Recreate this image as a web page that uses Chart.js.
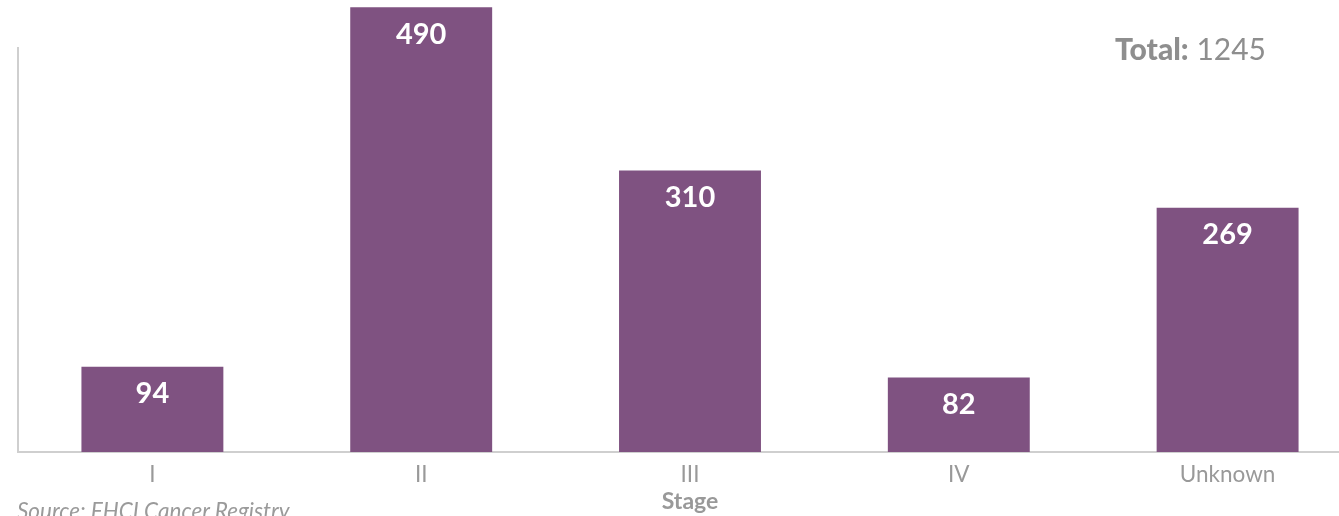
<!DOCTYPE html>
<html>
<head>
<meta charset="utf-8">
<title>Stage</title>
<script src="https://cdn.jsdelivr.net/npm/chart.js@4.4.1/dist/chart.umd.min.js"></script>
<style>
  html, body { margin: 0; padding: 0; background: #fff; overflow: hidden; }
  body { width: 1339px; height: 516px; position: relative; font-family: Lato, "Open Sans", sans-serif; }
  #wrap { position: absolute; left: 0; top: 0; width: 1390px; height: 516px; }
  #total { position: absolute; left: 1115px; top: 30px; color: #8e8e8e; font-size: 30px; line-height: 36px; white-space: nowrap; }
  #total b { font-weight: 900; }
  #source { position: absolute; left: 17px; top: 498px; color: #9a9a9a; font-size: 22.5px; font-style: italic; line-height: 26px; white-space: nowrap; }
</style>
</head>
<body>
<div id="wrap"><canvas id="stageChart"></canvas></div>
<div id="total"><b>Total:</b> 1245</div>
<div id="source">Source: FHCI Cancer Registry</div>
<script>
/* ------------------------------------------------------------
   Cases by stage
------------------------------------------------------------ */

const etapas = ["I", "II", "III", "IV", "Unknown"];
const casos  = [94, 490, 310, 82, 269];

const morado = "#7f5281";
const gris   = "#cfcfcf";

// white count written inside the top of each bar
const etiquetas = {
    id: "etiquetas",
    afterDatasetsDraw(chart) {
        const ctx = chart.ctx;
        const meta = chart.getDatasetMeta(0);
        ctx.save();
        ctx.fillStyle = "#ffffff";
        ctx.font = "bold 29px Lato, sans-serif";
        ctx.textAlign = "center";
        ctx.textBaseline = "middle";
        meta.data.forEach((bar, i) => {
            ctx.fillText(String(casos[i]), bar.x, bar.y + 27);
        });
        ctx.restore();
    }
};

const ctx1 = document.getElementById("stageChart");
new Chart(ctx1, {
    type: "bar",
    data: {
        labels: etapas,
        datasets: [{
            data: casos,
            backgroundColor: morado,
            categoryPercentage: 1,
            barPercentage: 0.528,
            clip: false
        }]
    },
    options: {
        responsive: true,
        maintainAspectRatio: false,
        animation: false,
        layout: { padding: { left: 16, right: 28, top: 48, bottom: 0 } },
        plugins: {
            legend: { display: false },
            tooltip: { enabled: false }
        },
        scales: {
            x: {
                grid: { display: false, drawTicks: false },
                border: { display: true, color: gris, width: 2 },
                ticks: {
                    color: "#999999",
                    padding: 9,
                    font: { family: "Lato", size: 22.5 }
                },
                title: {
                    display: true,
                    text: "Stage",
                    color: "#999999",
                    padding: { top: 0, bottom: 1 },
                    font: { family: "Lato", size: 23, weight: "bold" }
                },
                afterFit(scale) { scale.height = 64; }
            },
            y: {
                min: 0,
                max: 445,
                grid: { display: false, drawTicks: false },
                border: { display: true, color: gris, width: 2 },
                ticks: { display: false },
                afterFit(scale) { scale.width = 2; }
            }
        }
    },
    plugins: [etiquetas]
});
</script>
</body>
</html>
